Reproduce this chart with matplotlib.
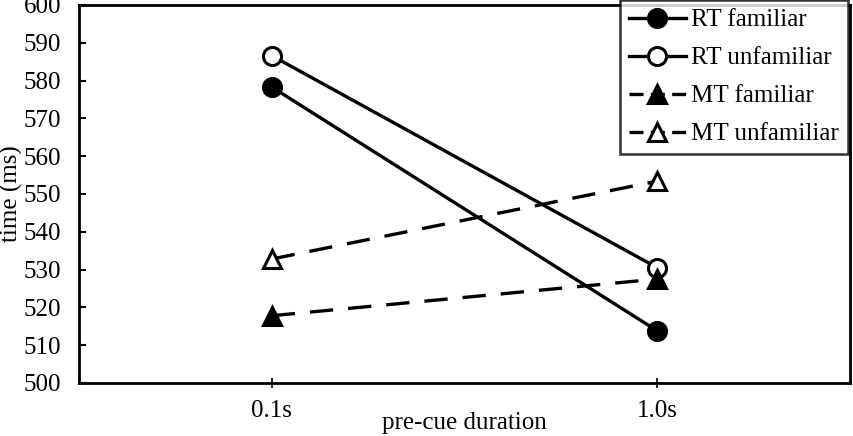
import matplotlib
matplotlib.use("Agg")
import matplotlib.pyplot as plt
from matplotlib.lines import Line2D

plt.rcParams["font.family"] = ["Liberation Serif", "DejaVu Serif"]

# ── data ──────────────────────────────────────────────────────────────────────
durations = ["0.1s", "1.0s"]
rt_familiar = [578.3, 513.8]
rt_unfamiliar = [586.6, 530.5]
mt_familiar = [517.8, 527.5]
mt_unfamiliar = [532.8, 553.4]

series = [
    ("RT familiar", rt_familiar, "-", "o", "black"),
    ("RT unfamiliar", rt_unfamiliar, "-", "o", "white"),
    ("MT familiar", mt_familiar, "--", "^", "black"),
    ("MT unfamiliar", mt_unfamiliar, "--", "^", "white"),
]

fig = plt.figure(figsize=(8.54, 4.36), dpi=100)
ax = fig.add_axes([79 / 854, 1 - 383 / 436, (850 - 79) / 854, (383 - 5) / 436])

x = list(range(len(durations)))
handles = []
for label, vals, ls, mk, fc in series:
    ms = 13 if mk == "o" else 12.5
    style = dict(color="black", marker=mk, markerfacecolor=fc,
                 markeredgecolor="black", markeredgewidth=2.2,
                 markersize=ms, linewidth=2.4)
    line, = ax.plot(x, vals, linestyle=ls, **style)
    # legend proxy: shorter dashes so the key reads "- marker -"
    proxy = Line2D([], [], linestyle=ls, label=label, **style)
    if ls == "--":
        line.set_dashes([7, 4.5])
        proxy.set_dashes([4.2, 2.2])
    handles.append(proxy)

ax.set_xlim(-0.5, 1.5)
ax.set_ylim(500, 600)
ax.set_yticks(range(500, 601, 10))
ax.set_xticks(x)
ax.set_xticklabels(durations)
ax.tick_params(axis="y", direction="in", length=5, width=1.5, labelsize=18, pad=13)
ax.tick_params(axis="x", direction="inout", length=7, width=1.2, labelsize=18, pad=9)
for s in ax.spines.values():
    s.set_linewidth(2)

ax.set_ylabel("time (ms)", fontsize=18)
ax.yaxis.set_label_coords(-0.073, 0.5)
ax.set_xlabel("pre-cue duration", fontsize=18)
ax.xaxis.set_label_coords(0.5, -0.078)

leg = ax.legend(handles=handles, loc="upper right", bbox_to_anchor=(0.997, 1.013),
                fontsize=18, frameon=True, fancybox=False, edgecolor="black",
                handlelength=2.3, handletextpad=0.2, borderpad=0.35,
                labelspacing=0.62, borderaxespad=0.0)
leg.get_frame().set_linewidth(1.8)

fig.savefig("out.png", dpi=100)
